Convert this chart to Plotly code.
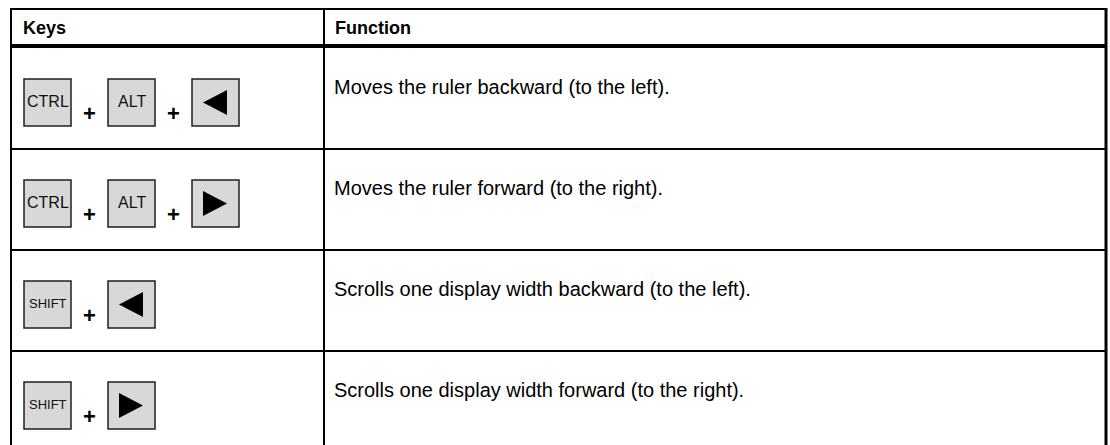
import plotly.graph_objects as go

# ---- table content ----
header = ["Keys", "Function"]
row_keys = [
    ["CTRL", "ALT", "LEFT"],
    ["CTRL", "ALT", "RIGHT"],
    ["SHIFT", "LEFT"],
    ["SHIFT", "RIGHT"],
]
functions = [
    "Moves the ruler backward (to the left).",
    "Moves the ruler forward (to the right).",
    "Scrolls one display width backward (to the left).",
    "Scrolls one display width forward (to the right).",
]

# ---- layout constants (page pixel coordinates) ----
W, H = 1110, 445
LEFT, RIGHT, TOP = 11, 1106, 9
HEAD_LINE = 46
BODY_TOP = 48
ROW_H = 101
COL_SPLIT = 324
KEY_X0, KEY_STEP, KEY_W = 24, 84, 47
KEY_DY = 31
FONT = "Liberation Sans, Arial, sans-serif"
KEY_FILL = "#d8d8d8"
KEY_LINE = "#1e1e1e"

shapes = []
annotations = []


def line(x0, y0, x1, y1, w=2, color="black"):
    shapes.append(dict(type="line", xref="x", yref="y", x0=x0, y0=y0, x1=x1, y1=y1,
                       line=dict(color=color, width=w)))


n_rows = len(functions)
bottom = BODY_TOP + n_rows * ROW_H
# borders
line(LEFT, TOP, RIGHT, TOP, 2)
line(LEFT, TOP - 1, LEFT, bottom, 2)
line(RIGHT, TOP - 1, RIGHT, bottom, 3)
line(COL_SPLIT, TOP, COL_SPLIT, bottom, 2)
line(LEFT, HEAD_LINE, RIGHT, HEAD_LINE, 4)
for i in range(1, n_rows + 1):
    y = BODY_TOP + i * ROW_H
    line(LEFT, y, RIGHT, y, 2)

# header text
for txt, x in zip(header, [LEFT + 10, COL_SPLIT + 9]):
    annotations.append(dict(x=x, y=28, xref="x", yref="y", text="<b>" + txt + "</b>",
                            showarrow=False, xanchor="left", yanchor="middle",
                            font=dict(family=FONT, size=18, color="black")))

for i, (keys, func) in enumerate(zip(row_keys, functions)):
    rt = BODY_TOP + i * ROW_H
    ky0 = rt + KEY_DY
    ky1 = ky0 + KEY_W
    cy = (ky0 + ky1) / 2
    for j, k in enumerate(keys):
        kx0 = KEY_X0 + j * KEY_STEP
        kx1 = kx0 + KEY_W
        shapes.append(dict(type="rect", xref="x", yref="y", x0=kx0, y0=ky0, x1=kx1, y1=ky1,
                           fillcolor=KEY_FILL, line=dict(color=KEY_LINE, width=1.5)))
        if k == "LEFT":
            path = f"M {kx0+11},{cy} L {kx0+35},{cy-12.5} L {kx0+35},{cy+12.5} Z"
            shapes.append(dict(type="path", xref="x", yref="y", path=path,
                               fillcolor="black", line=dict(width=0)))
        elif k == "RIGHT":
            path = f"M {kx0+11},{cy-12.5} L {kx0+35},{cy} L {kx0+11},{cy+12.5} Z"
            shapes.append(dict(type="path", xref="x", yref="y", path=path,
                               fillcolor="black", line=dict(width=0)))
        else:
            annotations.append(dict(x=(kx0 + kx1) / 2, y=cy - 1, xref="x", yref="y", text=k,
                                    showarrow=False, xanchor="center", yanchor="middle",
                                    font=dict(family=FONT, size=16 if len(k) < 5 else 13,
                                              color="#111")))
        if j < len(keys) - 1:
            annotations.append(dict(x=kx1 + 18, y=ky0 + 34, xref="x", yref="y", text="<b>+</b>",
                                    showarrow=False, xanchor="center", yanchor="middle",
                                    font=dict(family=FONT, size=22, color="black")))
    annotations.append(dict(x=COL_SPLIT + 8, y=rt + 39, xref="x", yref="y", text=func,
                            showarrow=False, xanchor="left", yanchor="middle",
                            font=dict(family=FONT, size=20, color="black")))

fig = go.Figure()
fig.update_layout(
    width=W, height=H,
    margin=dict(l=0, r=0, t=0, b=0),
    paper_bgcolor="white", plot_bgcolor="white",
    xaxis=dict(range=[0, W], visible=False, fixedrange=True),
    yaxis=dict(range=[H, 0], visible=False, fixedrange=True),
    shapes=shapes, annotations=annotations,
    showlegend=False,
)
fig.write_html(
    "out.html",
    config={"displayModeBar": False, "staticPlot": True},
    post_script="document.body.style.margin='0';document.body.style.overflow='hidden';",
)
